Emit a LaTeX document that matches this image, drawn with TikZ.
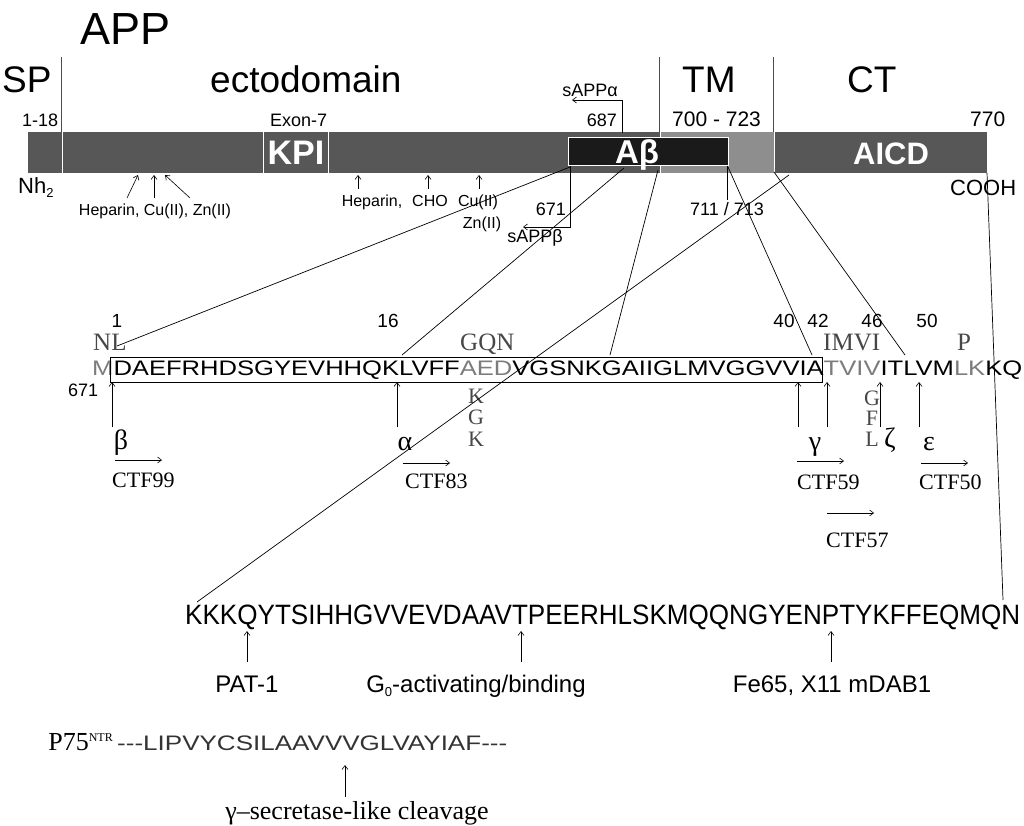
\documentclass[tikz,border=0pt]{standalone}
\usepackage{fontspec}
\setmainfont{Liberation Serif}
\setsansfont{Liberation Sans}
\usepackage{graphicx}
\usetikzlibrary{arrows.meta}
\definecolor{bargray}{HTML}{575757}
\definecolor{tmgray}{HTML}{8E8E8E}
\definecolor{abblack}{HTML}{1A1A1A}
\definecolor{seqgray}{HTML}{7C7C7C}
\newcommand{\fsz}[1]{\fontsize{#1}{#1}\selectfont}
\newcommand{\lowsub}[1]{\raisebox{-4pt}{\fsz{13}#1}}
\tikzset{
  sf/.style={font=\sffamily\fsz{#1},inner sep=0pt},
  rm/.style={font=\rmfamily\fsz{#1},inner sep=0pt},
  hollow/.style={text=black!72},
  domtxt/.style={font=\sffamily\bfseries\fsz{#1},text=white,inner sep=0pt},
  cut/.style={-{Straight Barb[length=4pt,width=6pt]},line width=0.6pt},
  link/.style={line width=0.7pt},
  sep/.style={black!70,line width=0.5pt,double=white,double distance=0.8pt}
}
\begin{document}
\begin{tikzpicture}[x=1pt,y=-1pt]
\useasboundingbox (0,0) rectangle (1024,826);
\coordinate(nterm)at(28,132);
\coordinate(cterm)at(987,173);
\fill[bargray](nterm)rectangle(cterm);
\fill[tmgray](660,132)rectangle(774,173);
\foreach \x in {62,263,328,660,774} \draw[white,line width=0.9pt](\x,132)--(\x,173);
\draw[white,line width=1pt,fill=abblack](568,138)rectangle(728,166);
\foreach \x in {62,660,774} \draw[sep](\x,57)--(\x,132);
\node[sf=45,anchor=base west](app)at(80,45){APP};
\node[sf=37,anchor=base west](sp)at(2,93){SP};
\node[sf=37,anchor=base west](ecto)at(210,93){ectodomain};
\node[sf=37,anchor=base west](tm)at(682,93){TM};
\node[sf=37,anchor=base west](ct)at(847,93){CT};
\node[sf=18,anchor=base west](n118)at(22,127){1-18};
\node[sf=18,anchor=base west](exon)at(270,127){Exon-7};
\node[sf=18,anchor=base east](n687)at(617,127){687};
\node[sf=21,anchor=base west](n700)at(672,127){700 - 723};
\node[sf=21,anchor=base west](n770)at(970,127){770};
\node[domtxt=34](kpi)at(296,153){KPI};
\node[domtxt=33](abeta)at(637,155){Aβ};
\node[domtxt=31](aicd)at(891,154){AICD};
\node[sf=22,anchor=base west](nh2)at(18,194){Nh\lowsub{2}};
\node[sf=22,anchor=base west](cooh)at(950,196){COOH};
\node[sf=16,anchor=base](hep1)at(155,216){Heparin, Cu(II), Zn(II)};
\node[sf=16,anchor=base](hep2)at(372,207){Heparin,};
\node[sf=16,anchor=base](cho)at(430,207){CHO};
\node[sf=16,anchor=base](cu)at(478,207){Cu(II)};
\node[sf=16,anchor=base](zn)at(482,229){Zn(II)};
\coordinate(h1)at(127,198);\coordinate(h1b)at(138,175);
\coordinate(h2)at(154,198);\coordinate(h2b)at(154,175);
\coordinate(h3)at(190,198);\coordinate(h3b)at(165,175);
\draw[cut](h1)--(h1b);
\draw[cut](h2)--(h2b);
\draw[cut](h3)--(h3b);
\foreach \x/\n in {358/hp,428/ch,479/cz}{
  \coordinate(\n)at(\x,189);\coordinate(\n b)at(\x,175);
  \draw[cut](\n)--(\n b);}
\coordinate(a687)at(622,133);
\coordinate(salpha)at(572,100);
\draw[cut](a687)|-(salpha);
\node[sf=18,anchor=base](salbl)at(590,97){sAPPα};
\coordinate(b671)at(570,166);
\coordinate(sbeta)at(523,227);
\draw[cut](b671)|-(sbeta);
\node[sf=18,anchor=base east](n671a)at(566,215){671};
\node[sf=18,anchor=base](sblbl)at(535,243){sAPPβ};
\coordinate(g711)at(727,166);
\coordinate(g711b)at(727,200);
\draw(g711)--(g711b);
\node[sf=18,anchor=base](n711)at(727,215){711 / 713};
\node[sf=21,anchor=base west](seq)at(92,375){\resizebox{930pt}{\height}{{\color{seqgray}M}DAEFRHDSGYEVHHQKLVFF{\color{seqgray}AED}VGSNKGAIIGLMVGGVVIA{\color{seqgray}TVIV}ITLVM{\color{seqgray}LK}KQ}};
\draw[line width=0.6pt](110,357)rectangle(822,382);
\foreach \x/\t in {117/1,388/16,784/40,818/42,872/46,927/50}
  \node[sf=19,anchor=base]at(\x,327){\t};
\node[rm=25,hollow,anchor=base west](nl)at(93,350){NL};
\node[rm=25,hollow,anchor=base west](gqn)at(460,350){GQN};
\node[rm=25,hollow,anchor=base west](imvi)at(823,350){IMVI};
\node[rm=25,hollow,anchor=base west](pro)at(957,350){P};
\node[sf=18,anchor=base west](n671b)at(68,396){671};
\foreach \y/\t [count=\i] in {403/K,424/G,446/K}
  \node[rm=22,hollow,anchor=base](kgk\i)at(476,\y){\t};
\foreach \y/\t [count=\i] in {405/G,425/F,446/L}
  \node[rm=22,hollow,anchor=base](gfl\i)at(872,\y){\t};
\foreach \x/\n in {112/cb,397/ca,798/cg40,827/cg42,880/cz,919/ce}{
  \coordinate(\n)at(\x,382);\coordinate(\n t)at(\x,427);
  \draw[cut](\n t)--(\n);}
\node[rm=28,anchor=base](beta)at(121,449){β};
\node[rm=28,anchor=base](alpha)at(405,450){α};
\node[rm=28,anchor=base](gamma)at(815,450){γ};
\node[rm=28,anchor=base](zeta)at(890,447){ζ};
\node[rm=28,anchor=base](eps)at(929,450){ε};
\foreach \x/\y/\t in {115/460/99,403/463/83,797/461/59,921/463/50,827/513/57}{
  \coordinate(f\t)at(\x,\y);\coordinate(f\t e)at(\x+47,\y);
  \draw[cut](f\t)--(f\t e);}
\node[rm=22,anchor=base west](ctf99)at(112,487){CTF99};
\node[rm=22,anchor=base west](ctf83)at(405,488){CTF83};
\node[rm=22,anchor=base west](ctf59)at(797,489){CTF59};
\node[rm=22,anchor=base west](ctf50)at(919,489){CTF50};
\node[rm=22,anchor=base west](ctf57)at(826,547){CTF57};
\coordinate(abL)at(570,167);\coordinate(nlL)at(117,346);
\coordinate(abA)at(624,168);\coordinate(kl16)at(402,355);
\coordinate(tmL)at(658,170);\coordinate(sg25)at(610,355);
\coordinate(aicdL)at(789,175);\coordinate(kkk)at(197,602);
\coordinate(abR)at(728,167);\coordinate(ia42)at(812,355);
\coordinate(tmR)at(774,172);\coordinate(it46)at(905,355);
\coordinate(cend)at(987,173);\coordinate(qn)at(1003,600);
\draw[link](abL)--(nlL);
\draw[link](abA)--(kl16);
\draw[link](tmL)--(sg25);
\draw[link](aicdL)--(kkk);
\draw[link](abR)--(ia42);
\draw[link](tmR)--(it46);
\draw[link](cend)--(qn);
\node[sf=28,anchor=base west](cyto)at(185,624){\resizebox{835pt}{\height}{KKKQYTSIHHGVVEVDAAVTPEERHLSKMQQNGYENPTYKFFEQMQN}};
\foreach \x/\n in {247/pat,521/gzero,831/fe}{
  \coordinate(\n)at(\x,631);\coordinate(\n t)at(\x,662);
  \draw[cut](\n t)--(\n);}
\node[sf=24,anchor=base](patlbl)at(247,692){PAT-1};
\node[sf=24,anchor=base](golbl)at(476,692){G\lowsub{0}-activating/binding};
\node[sf=24,anchor=base](felbl)at(832,692){Fe65, X11 mDAB1};
\node[rm=26,anchor=base east](p75)at(113,750){P75\raisebox{9pt}{\fsz{12}NTR}};
\node[sf=21,anchor=base west,text=black!80](p75seq)at(117,750){\resizebox{390pt}{\height}{{-}{-}{-}LIPVYCSILAAVVVGLVAYIAF{-}{-}{-}}};
\coordinate(gs)at(345,765);\coordinate(gst)at(345,797);
\draw[cut](gst)--(gs);
\node[rm=26,anchor=base](gslbl)at(357,819){γ–secretase-like cleavage};
\end{tikzpicture}
\end{document}
